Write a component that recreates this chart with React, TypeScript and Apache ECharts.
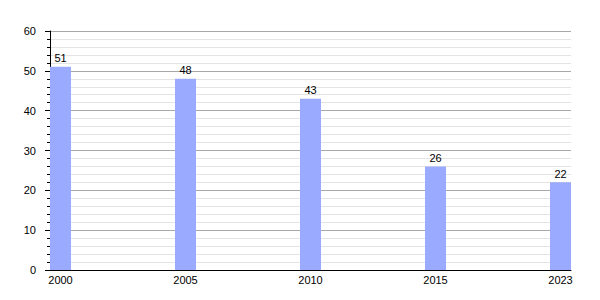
import React, { useEffect, useRef } from "react";
import * as echarts from "echarts";

const years = ["2000", "2005", "2010", "2015", "2023"];
const values = [51, 48, 43, 26, 22];
const yTicks = [0, 10, 20, 30, 40, 50, 60];

export default function App() {
  const ref = useRef<HTMLDivElement>(null);
  useEffect(() => {
    if (!ref.current) return;
    const chart = echarts.init(ref.current, null, { renderer: "svg" });
    const font = "Liberation Sans, Arial, Helvetica, sans-serif";
    chart.setOption({
      animation: false,
      backgroundColor: "#ffffff",
      textStyle: { fontFamily: font },
      grid: { left: 50, right: 29, top: 31, bottom: 30, containLabel: false },
      xAxis: {
        type: "value",
        min: -0.084,
        max: 4.084,
        axisLine: { show: true, onZero: false, lineStyle: { color: "#000", width: 1 } },
        axisTick: { show: false },
        splitLine: { show: false },
        axisLabel: {
          customValues: years.map((_, i) => i),
          formatter: (v: number) => years[Math.round(v)] ?? "",
          color: "#000",
          fontSize: 11,
          fontFamily: font,
          margin: 4,
          showMinLabel: true,
          showMaxLabel: true,
        },
      },
      yAxis: {
        type: "value",
        min: yTicks[0],
        max: yTicks[yTicks.length - 1],
        interval: 10,
        axisLine: { show: true, onZero: false, lineStyle: { color: "#000", width: 1 } },
        axisTick: { show: true, length: 5, lineStyle: { color: "#000" } },
        minorTick: { show: true, splitNumber: 5, length: 3, lineStyle: { color: "#000" } },
        splitLine: { show: true, lineStyle: { color: "#a8a8a8", width: 1 } },
        minorSplitLine: { show: true, lineStyle: { color: "#e4e4e4", width: 1 } },
        axisLabel: { color: "#000", fontSize: 11, fontFamily: font, margin: 14 },
      },
      series: [
        {
          type: "bar",
          data: values.map((v, i) => [i, v]),
          barWidth: 21,
          itemStyle: { color: "#99aaff" },
          label: {
            show: true,
            position: "top",
            distance: 3,
            color: "#000",
            fontSize: 11,
            fontFamily: font,
            formatter: (p: any) => String(p.value[1]),
          },
        },
      ],
    });
    return () => chart.dispose();
  }, []);
  return <div ref={ref} style={{ width: 600, height: 300, position: "absolute", left: 0, top: 0 }} />;
}
